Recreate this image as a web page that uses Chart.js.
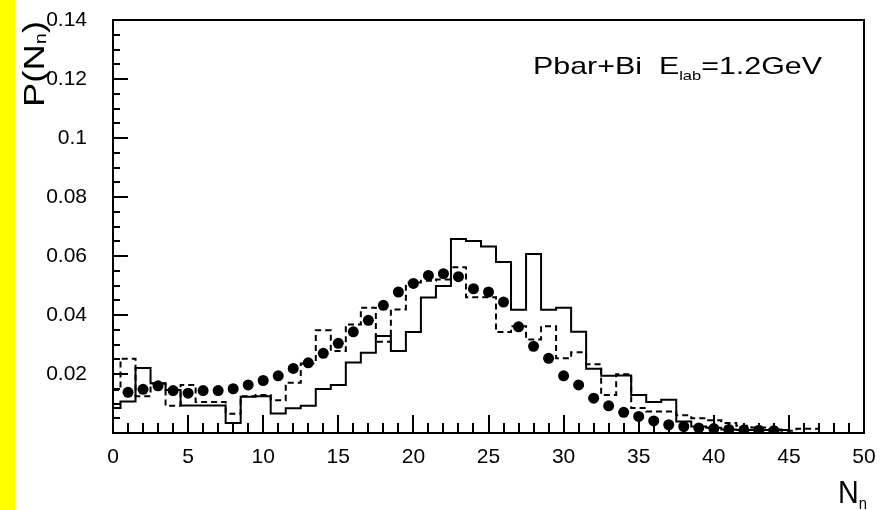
<!DOCTYPE html>
<html>
<head>
<meta charset="utf-8">
<script src="https://cdn.jsdelivr.net/npm/chart.js@4/dist/chart.umd.min.js"></script>
<style>
  html, body { margin: 0; padding: 0; background: #ffffff; }
  canvas { display: block; }
</style>
</head>
<body>
<canvas id="c" width="885" height="510"></canvas>
<script>
// ---- data ----
const nBins = [0,1,2,3,4,5,6,7,8,9,10,11,12,13,14,15,16,17,18,19,20,21,22,23,24,25,26,27,28,29,30,31,32,33,34,35,36,37,38,39,40,41,42,43,44,45,46,47];

// solid histogram, N = 0..45
const solidHist = [0.0085,0.0107,0.0220,0.0169,0.0146,0.0093,0.0093,0.0093,0.0034,0.0123,
                   0.0125,0.0066,0.0084,0.0092,0.0149,0.0163,0.0239,0.0272,0.0329,0.0278,
                   0.0342,0.0459,0.0498,0.0658,0.0651,0.0632,0.0580,0.0418,0.0607,0.0418,
                   0.0425,0.0343,0.0218,0.0194,0.0195,0.0129,0.0105,0.0113,0.0039,0.0022,
                   0.0018,0.0012,0.0010,0.0010,0.0010,0.0010];

// dashed histogram, N = 0..47
const dashedHist = [0.0146,0.0252,0.0125,0.0168,0.0092,0.0163,0.0105,0.0105,0.0065,0.0125,
                    0.0129,0.0111,0.0170,0.0236,0.0348,0.0278,0.0368,0.0425,0.0309,0.0419,
                    0.0510,0.0516,0.0520,0.0562,0.0460,0.0460,0.0342,0.0362,0.0317,0.0362,
                    0.0253,0.0274,0.0233,0.0129,0.0199,0.0085,0.0073,0.0073,0.0060,0.0050,
                    0.0043,0.0034,0.0025,0.0019,0.0012,0.0008,0.0014,0.0014];

// dots, N = 1..44
const dotN = [1,2,3,4,5,6,7,8,9,10,11,12,13,14,15,16,17,18,19,20,21,22,23,24,25,26,27,28,29,30,31,32,33,34,35,36,37,38,39,40,41,42,43,44];
const dotVals = [0.0138,0.0148,0.0160,0.0144,0.0135,0.0144,0.0144,0.0150,0.0163,0.0178,
                 0.0194,0.0219,0.0238,0.0270,0.0304,0.0343,0.0382,0.0433,0.0478,0.0507,
                 0.0534,0.0540,0.0530,0.0489,0.0478,0.0444,0.0360,0.0294,0.0253,0.0194,
                 0.0163,0.0118,0.0092,0.0070,0.0056,0.0041,0.0028,0.0022,0.0017,0.0015,
                 0.0012,0.0010,0.0009,0.0008];

// axis tick labels
const xTickVals = [0,5,10,15,20,25,30,35,40,45,50];
const yTickVals = [0.02,0.04,0.06,0.08,0.1,0.12,0.14];
const xMinorStep = 1;
const yMinorStep = 0.005;

// ---- helpers ----
function drawRich(ctx, parts, x, y, targetWidth) {
  let natural = 0;
  parts.forEach(p => { ctx.font = p.size + 'px "Liberation Sans", Arial, sans-serif'; natural += ctx.measureText(p.t).width; });
  const sx = targetWidth / natural;
  ctx.save();
  ctx.translate(x, y);
  ctx.scale(sx, 1);
  let cx = 0;
  parts.forEach(p => {
    ctx.font = p.size + 'px "Liberation Sans", Arial, sans-serif';
    ctx.fillText(p.t, cx, p.dy || 0);
    cx += ctx.measureText(p.t).width;
  });
  ctx.restore();
}

const framePlugin = {
  id: 'framePlugin',
  beforeDraw(chart) {
    const ctx = chart.ctx;
    ctx.save();
    ctx.fillStyle = '#ffffff';
    ctx.fillRect(0, 0, chart.width, chart.height);
    ctx.fillStyle = '#ffff00';
    ctx.fillRect(0, 0, 15, chart.height);
    ctx.restore();
  },
  afterDatasetsDraw(chart) {
    const ctx = chart.ctx;
    const a = chart.chartArea;
    const xs = chart.scales.x, ys = chart.scales.y;
    ctx.save();
    ctx.strokeStyle = '#000';
    ctx.lineWidth = 2;
    ctx.strokeRect(a.left, a.top, a.right - a.left, a.bottom - a.top);
    ctx.beginPath();
    const nx = Math.round((xs.max - xs.min) / xMinorStep);
    for (let i = 0; i <= nx; i++) {
      const v = xs.min + i * xMinorStep;
      const px = Math.round(xs.getPixelForValue(v));
      const major = xTickVals.includes(v);
      ctx.moveTo(px, a.bottom);
      ctx.lineTo(px, a.bottom - (major ? 18 : 10));
    }
    const ny = Math.round((ys.max - ys.min) / yMinorStep);
    for (let i = 1; i < ny; i++) {
      const v = ys.min + i * yMinorStep;
      const py = Math.round(ys.getPixelForValue(v));
      const major = i % 4 === 0;
      ctx.moveTo(a.left, py);
      ctx.lineTo(a.left + (major ? 15 : 7), py);
    }
    ctx.stroke();

    ctx.fillStyle = '#000';
    ctx.textBaseline = 'alphabetic';
    ctx.textAlign = 'left';
    // annotation
    drawRich(ctx, [
      {t: 'Pbar+Bi  E', size: 24},
      {t: 'lab', size: 13, dy: 6},
      {t: '=1.2GeV', size: 24}
    ], 533, 74, 289);

    // x title
    drawRich(ctx, [
      {t: 'N', size: 31},
      {t: 'n', size: 16, dy: 6}
    ], 838, 503, 29);

    // y title (rotated)
    ctx.save();
    ctx.translate(44, 107);
    ctx.rotate(-Math.PI / 2);
    drawRich(ctx, [
      {t: 'P(N', size: 29},
      {t: 'n', size: 16, dy: 2},
      {t: ')', size: 29}
    ], 0, 0, 86);
    ctx.restore();
    ctx.restore();
  }
};

const ctx = document.getElementById('c').getContext('2d');
new Chart(ctx, {
  data: {
    datasets: [
      {
        type: 'line',
        data: solidHist.map((v, i) => ({x: nBins[i], y: v})),
        borderColor: '#000',
        borderWidth: 2,
        pointRadius: 0,
        stepped: 'middle',
        fill: false
      },
      {
        type: 'line',
        data: dashedHist.map((v, i) => ({x: nBins[i], y: v})),
        borderColor: '#000',
        borderWidth: 2,
        borderDash: [6, 4],
        pointRadius: 0,
        stepped: 'middle',
        fill: false
      },
      {
        type: 'scatter',
        data: dotVals.map((v, i) => ({x: dotN[i], y: v})),
        backgroundColor: '#000',
        borderColor: '#000',
        borderWidth: 0,
        pointRadius: 5.5,
        pointStyle: 'circle'
      }
    ]
  },
  options: {
    responsive: false,
    animation: false,
    events: [],
    layout: { padding: { left: 0, top: 20, right: 21, bottom: 0 } },
    plugins: { legend: { display: false }, tooltip: { enabled: false } },
    scales: {
      x: {
        type: 'linear',
        min: 0, max: 50,
        grid: { display: false },
        border: { display: false },
        afterBuildTicks(s) { s.ticks = xTickVals.map(v => ({value: v})); },
        afterFit(s) { s.height = 77; },
        ticks: {
          color: '#000',
          padding: 4,
          maxRotation: 0,
          autoSkip: false,
          font: { family: '"Liberation Sans", Arial, sans-serif', size: 21 },
          callback: v => String(v)
        }
      },
      y: {
        type: 'linear',
        min: 0, max: 0.14,
        grid: { display: false },
        border: { display: false },
        afterBuildTicks(s) { s.ticks = yTickVals.map(v => ({value: v})); },
        afterFit(s) { s.width = 113; s.paddingTop = 0; s.paddingBottom = 0; },
        ticks: {
          color: '#000',
          padding: 18,
          autoSkip: false,
          font: { family: '"Liberation Sans", Arial, sans-serif', size: 21 },
          callback: v => String(+(+v).toFixed(3))
        }
      }
    }
  },
  plugins: [framePlugin]
});
</script>
</body>
</html>
